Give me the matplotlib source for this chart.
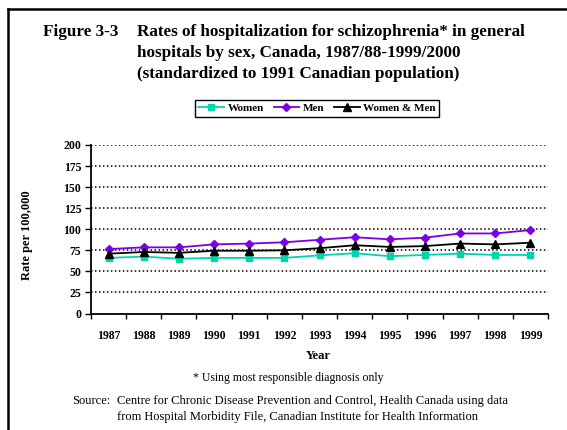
import matplotlib
matplotlib.use('Agg')
import matplotlib.pyplot as plt
from matplotlib.lines import Line2D

plt.rcParams['font.family'] = ['Liberation Serif', 'DejaVu Serif']

years = ['1987', '1988', '1989', '1990', '1991', '1992', '1993',
         '1994', '1995', '1996', '1997', '1998', '1999']
women = [66, 67.5, 65, 66, 66, 66, 69, 71.5, 68, 69.5, 71, 69.5, 69.5]
men = [76.5, 78.5, 78.5, 82, 83, 84.5, 87.5, 90.5, 88, 90, 95, 95, 99]
both = [71, 73, 72, 74.5, 74.5, 75, 77.5, 81, 79, 80, 83, 82, 84]
yticks = [0, 25, 50, 75, 100, 125, 150, 175, 200]

fig = plt.figure(figsize=(5.67, 4.30), dpi=100)
ax = fig.add_axes([0.1605, 0.2709, 0.806, 0.392])

x = list(range(len(years)))
ax.plot(x, women, '-s', color='#00d4aa', lw=1.3, ms=5, label='Women')
ax.plot(x, men, '-D', color='#7a00e6', lw=1.3, ms=4.5, label='Men')
ax.plot(x, both, '-^', color='black', lw=1.3, ms=5.5, label='Women & Men')

# gepunktete gitterlinien
for v in yticks[1:]:
    ax.axhline(v, color='black', lw=1.1, ls=(0, (1, 1.6)), zorder=0)

ax.set_xlim(-0.5, len(years) - 0.5)
ax.set_ylim(0, 200)
ax.set_yticks(yticks)
ax.set_yticklabels([str(v) for v in yticks], fontsize=8.5, fontweight='bold')
ax.set_xticks(x)
ax.set_xticklabels(years, fontsize=8.5, fontweight='bold')
ax.set_xticks([i - 0.5 for i in range(len(years) + 1)], minor=True)
ax.tick_params(axis='x', which='major', length=0, pad=12)
ax.tick_params(axis='x', which='minor', length=3.5, width=1, direction='out')
ax.tick_params(axis='y', length=4, width=1, direction='out', pad=3)

for s in ['top', 'right']:
    ax.spines[s].set_visible(False)
for s in ['left', 'bottom']:
    ax.spines[s].set_linewidth(1.3)

fig.legend(loc='center', bbox_to_anchor=(0.559, 0.748), ncol=3,
           frameon=True, fancybox=False, edgecolor='black', framealpha=1,
           prop={'weight': 'bold', 'size': 8}, handlelength=2.3,
           handletextpad=0.3, columnspacing=0.9, borderpad=0.35)

fig.text(0.0476, 0.4535, 'Rate per 100,000', rotation=90, ha='center',
         va='center', fontsize=9, fontweight='bold')
fig.text(0.561, 0.172, 'Year', ha='center', va='center', fontsize=9,
         fontweight='bold')

# titel
tkw = dict(fontsize=12.3, fontweight='bold', va='center', ha='left')
fig.text(43 / 567, 1 - 32 / 430, 'Figure 3-3', **tkw)
fig.text(137 / 567, 1 - 32 / 430,
         'Rates of hospitalization for schizophrenia* in general', **tkw)
fig.text(137 / 567, 1 - 53 / 430,
         'hospitals by sex, Canada, 1987/88-1999/2000', **tkw)
fig.text(137 / 567, 1 - 74 / 430,
         '(standardized to 1991 Canadian population)', **tkw)

# fussnoten
fig.text(193 / 567, 1 - 378 / 430, '* Using most responsible diagnosis only',
         ha='left', va='center', fontsize=8.5)
fig.text(72 / 567, 1 - 401 / 430, 'Source:', ha='left', va='center', fontsize=9)
fig.text(117 / 567, 1 - 401 / 430,
         'Centre for Chronic Disease Prevention and Control, Health Canada using data',
         ha='left', va='center', fontsize=9)
fig.text(117 / 567, 1 - 417 / 430,
         'from Hospital Morbidity File, Canadian Institute for Health Information',
         ha='left', va='center', fontsize=9)

# rahmen oben und links
fig.add_artist(Line2D([8 / 567, 1], [1 - 9 / 430, 1 - 9 / 430], color='black',
                      lw=1.8, transform=fig.transFigure))
fig.add_artist(Line2D([8 / 567, 8 / 567], [0, 1 - 9 / 430], color='black',
                      lw=1.8, transform=fig.transFigure))

fig.savefig('out.png', dpi=100)
